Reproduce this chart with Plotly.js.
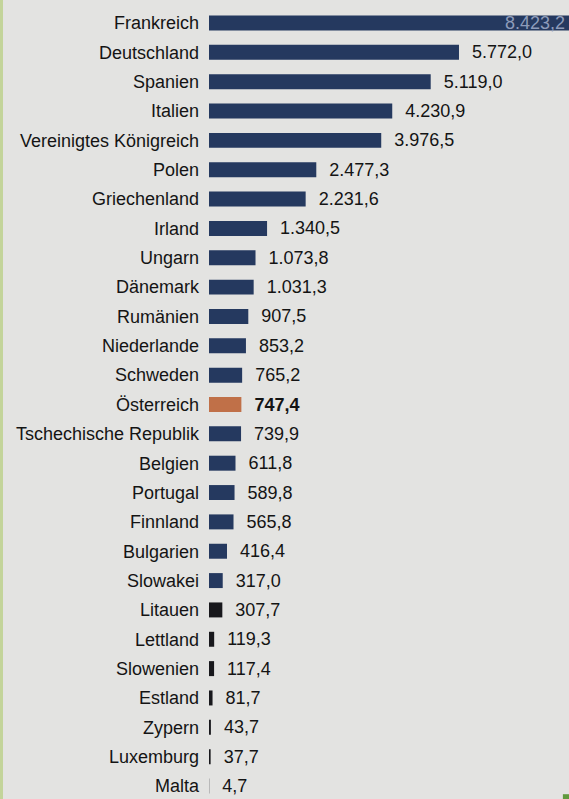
<!DOCTYPE html>
<html>
<head>
<meta charset="utf-8">
<script src="https://cdn.plot.ly/plotly-3.0.1.min.js"></script>
<style>
  html, body { margin: 0; padding: 0; background: #e3e3e1; overflow: hidden; }
  #wrap { border-left: 3px solid #c3d49a; width: 566px; height: 799px; }
  #chart { width: 566px; height: 799px; }
</style>
</head>
<body>
<div id="wrap"><div id="chart"></div></div>
<script>
const countries = ["Frankreich","Deutschland","Spanien","Italien","Vereinigtes Königreich","Polen","Griechenland","Irland","Ungarn","Dänemark","Rumänien","Niederlande","Schweden","Österreich","Tschechische Republik","Belgien","Portugal","Finnland","Bulgarien","Slowakei","Litauen","Lettland","Slowenien","Estland","Zypern","Luxemburg","Malta"];
const values = [8423.2,5772.0,5119.0,4230.9,3976.5,2477.3,2231.6,1340.5,1073.8,1031.3,907.5,853.2,765.2,747.4,739.9,611.8,589.8,565.8,416.4,317.0,307.7,119.3,117.4,81.7,43.7,37.7,4.7];
const highlight = "Österreich";
const darkBars = ["Litauen","Lettland","Slowenien","Estland","Zypern","Luxemburg","Malta"];

function fmtDE(v) {
  const parts = v.toFixed(1).split(".");
  const intPart = parts[0].replace(/\B(?=(\d{3})+(?!\d))/g, ".");
  return intPart + "," + parts[1];
}

const FONT = "Liberation Sans, Arial, sans-serif";
const colors = countries.map(c => c === highlight ? "#c07048" : (darkBars.includes(c) ? "#18181c" : "#25395f"));
const texts = countries.map((c, i) => {
  if (i === 0) return "";
  const t = fmtDE(values[i]);
  return c === highlight ? "  <b>" + t + "</b>" : "  " + t;
});
const positions = countries.map((c, i) => i === 0 ? "none" : "outside");

const trace = {
  type: "bar",
  orientation: "h",
  y: countries,
  x: values,
  marker: { color: colors, line: { width: 0 } },
  text: texts,
  textposition: positions,
  textangle: 0,
  constraintext: "none",
  cliponaxis: false,
  outsidetextfont: { family: FONT, size: 18, color: "#141414" },
  hoverinfo: "none"
};

const layout = {
  width: 566, height: 799,
  margin: { l: 206, r: 0, t: 0, b: 0, pad: 0 },
  paper_bgcolor: "#e3e3e1",
  plot_bgcolor: "#e3e3e1",
  bargap: 0.49,
  showlegend: false,
  xaxis: { range: [0, 8312], visible: false, fixedrange: true },
  yaxis: {
    type: "category",
    range: [26.443, -0.784],
    showgrid: false, zeroline: false, showline: false,
    ticks: "", ticklabelstandoff: 9,
    tickfont: { family: FONT, size: 18, color: "#141414" }
  },
  annotations: [{
    xref: "paper", yref: "y", x: 1, y: countries[0],
    xanchor: "right", yanchor: "middle", xshift: -2,
    text: fmtDE(values[0]), showarrow: false,
    font: { family: FONT, size: 18, color: "#8e9cba" }
  }],
  shapes: [{
    type: "rect", xref: "paper", yref: "paper",
    x0: 0.983, x1: 1.0, y0: 0, y1: 0.006,
    fillcolor: "#5f9a3c", line: { width: 0 }
  }]
};

Plotly.newPlot("chart", [trace], layout, { displayModeBar: false, staticPlot: true });
</script>
</body>
</html>
